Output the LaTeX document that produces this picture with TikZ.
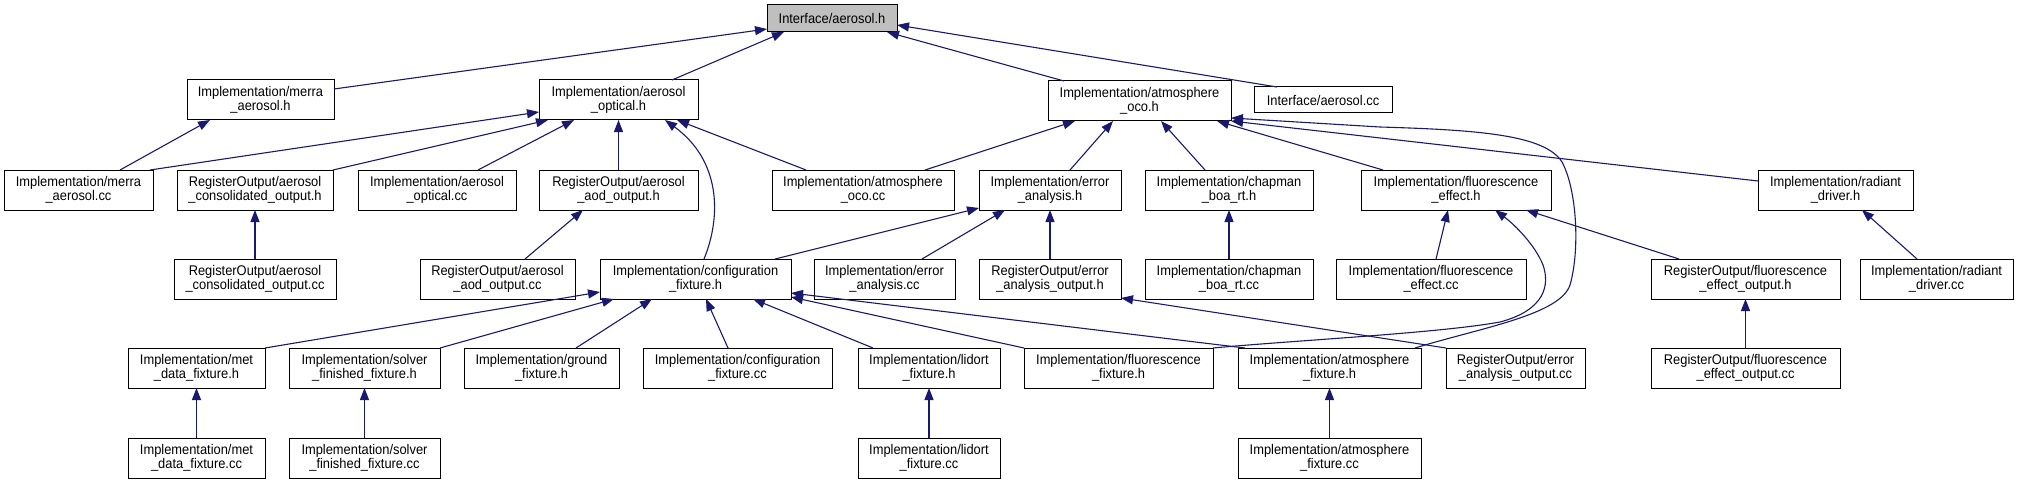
\documentclass[tikz,border=0pt]{standalone}
\usepackage{fontspec}
\setmainfont{Liberation Sans}[FakeStretch=0.92]
\usetikzlibrary{arrows.meta,calc}
\definecolor{edgeblue}{RGB}{25,25,112}
\definecolor{rootgray}{RGB}{191,191,191}
\begin{document}
\begin{tikzpicture}[x=1pt,y=-1pt,
  box/.style={draw=black,line width=1pt,fill=white,anchor=north west,inner sep=0pt,outer sep=0pt,
    align=center,minimum height=40pt,font=\fontsize{14}{14.5}\selectfont},
  onebox/.style={box,minimum height=26pt},
  edge/.style={draw=edgeblue,line width=1.1pt,-{Triangle[length=12pt,width=9pt]}}]
\useasboundingbox (0,0) rectangle (2025,484);
\fill[white] (0,0) rectangle (2025,484);
% row 0
\node[onebox,fill=rootgray,minimum width=130pt,minimum height=27pt] (A) at (767,5) {Interface/aerosol.h};
% row 1
\node[box,minimum width=147pt] (MH) at (187,80) {Implementation/merra\\\_aerosol.h};
\node[box,minimum width=159pt] (AO) at (539,80) {Implementation/aerosol\\\_optical.h};
\node[box,minimum width=183pt] (AT) at (1048,81) {Implementation/atmosphere\\\_oco.h};
\node[onebox,minimum width=138pt] (ACC) at (1254,87) {Interface/aerosol.cc};
% row 2
\node[box,minimum width=149pt] (MCC) at (4,170) {Implementation/merra\\\_aerosol.cc};
\node[box,minimum width=156pt] (COH) at (177,170) {RegisterOutput/aerosol\\\_consolidated\_output.h};
\node[box,minimum width=158pt] (AOC) at (358,170) {Implementation/aerosol\\\_optical.cc};
\node[box,minimum width=159pt] (AODH) at (539,170) {RegisterOutput/aerosol\\\_aod\_output.h};
\node[box,minimum width=182pt] (ATOC) at (772,170) {Implementation/atmosphere\\\_oco.cc};
\node[box,minimum width=142pt] (EAH) at (979,170) {Implementation/error\\\_analysis.h};
\node[box,minimum width=168pt] (CBH) at (1145,170) {Implementation/chapman\\\_boa\_rt.h};
\node[box,minimum width=190pt] (FEH) at (1361,170) {Implementation/fluorescence\\\_effect.h};
\node[box,minimum width=155pt] (RDH) at (1758,170) {Implementation/radiant\\\_driver.h};
% row 3
\node[box,minimum width=162pt] (COC) at (174,259) {RegisterOutput/aerosol\\\_consolidated\_output.cc};
\node[box,minimum width=155pt] (AODC) at (420,259) {RegisterOutput/aerosol\\\_aod\_output.cc};
\node[box,minimum width=191pt] (CFH) at (600,259) {Implementation/configuration\\\_fixture.h};
\node[box,minimum width=141pt] (EAC) at (814,259) {Implementation/error\\\_analysis.cc};
\node[box,minimum width=142pt] (EAOH) at (979,259) {RegisterOutput/error\\\_analysis\_output.h};
\node[box,minimum width=168pt] (CBC) at (1145,259) {Implementation/chapman\\\_boa\_rt.cc};
\node[box,minimum width=190pt] (FEC) at (1336,259) {Implementation/fluorescence\\\_effect.cc};
\node[box,minimum width=189pt] (FEOH) at (1651,259) {RegisterOutput/fluorescence\\\_effect\_output.h};
\node[box,minimum width=153pt] (RDC) at (1860,259) {Implementation/radiant\\\_driver.cc};
% row 4
\node[box,minimum width=137pt] (MDH) at (128,348) {Implementation/met\\\_data\_fixture.h};
\node[box,minimum width=151pt] (SFH) at (289,348) {Implementation/solver\\\_finished\_fixture.h};
\node[box,minimum width=155pt] (GFH) at (464,348) {Implementation/ground\\\_fixture.h};
\node[box,minimum width=189pt] (CFC) at (643,348) {Implementation/configuration\\\_fixture.cc};
\node[box,minimum width=142pt] (LFH) at (858,348) {Implementation/lidort\\\_fixture.h};
\node[box,minimum width=189pt] (FFH) at (1024,348) {Implementation/fluorescence\\\_fixture.h};
\node[box,minimum width=183pt] (AFH) at (1238,348) {Implementation/atmosphere\\\_fixture.h};
\node[box,minimum width=139pt] (EAOC) at (1446,348) {RegisterOutput/error\\\_analysis\_output.cc};
\node[box,minimum width=189pt] (FEOC) at (1651,348) {RegisterOutput/fluorescence\\\_effect\_output.cc};
% row 5
\node[box,minimum width=137pt] (MDC) at (128,438) {Implementation/met\\\_data\_fixture.cc};
\node[box,minimum width=151pt] (SFC) at (289,438) {Implementation/solver\\\_finished\_fixture.cc};
\node[box,minimum width=142pt] (LFC) at (858,438) {Implementation/lidort\\\_fixture.cc};
\node[box,minimum width=183pt] (AFC) at (1238,438) {Implementation/atmosphere\\\_fixture.cc};
% edges to Interface/aerosol.h
\draw[edge] ($(MH.north west)+(147,9)$) -- ($(A.north west)+(0,24)$);
\draw[edge] ($(AO.north west)+(133,0)$) -- ($(A.north west)+(17,27)$);
\draw[edge] ($(AT.north west)+(16,0)$) -- ($(A.north west)+(120,27)$);
\draw[edge] ($(ACC.north west)+(23,0)$) -- ($(A.north west)+(130,20)$);
% edges to merra_aerosol.h
\draw[edge] ($(MCC.north west)+(116,0)$) -- ($(MH.north west)+(23,40)$);
% edges to aerosol_optical.h
\draw[edge] ($(MCC.north west)+(146,0)$) -- ($(AO.north west)+(0,32)$);
\draw[edge] ($(COH.north west)+(156,0)$) -- ($(AO.north west)+(9,40)$);
\draw[edge] ($(AOC.north west)+(120,0)$) -- ($(AO.north west)+(35,40)$);
\draw[edge] ($(AODH.north west)+(79.5,0)$) -- ($(AO.north west)+(79.5,40)$);
\draw[edge] ($(CFH.north west)+(104,0)$) .. controls ($(CFH.north west)+(122,-44)$) and ($(AO.north west)+(181,80)$) .. ($(AO.north west)+(126,40)$);
\draw[edge] ($(ATOC.north west)+(34,0)$) -- ($(AO.north west)+(138,40)$);
% edges to atmosphere_oco.h
\draw[edge] ($(ATOC.north west)+(153,0)$) -- ($(AT.north west)+(27,40)$);
\draw[edge] ($(EAH.north west)+(91,0)$) -- ($(AT.north west)+(65,40)$);
\draw[edge] ($(CBH.north west)+(60,0)$) -- ($(AT.north west)+(113,40)$);
\draw[edge] ($(FEH.north west)+(22,0)$) -- ($(AT.north west)+(169,40)$);
\draw[edge] ($(RDH.north west)+(0,11)$) -- ($(AT.north west)+(183,40)$);
\draw[edge] ($(AFH.north west)+(177,0)$) .. controls (1480,328) and (1560,315) .. (1570,285)
  .. controls (1580,250) and (1577,190) .. (1562,162)
  .. controls (1545,135) and (1480,130) .. (1380,127)
  -- ($(AT.north west)+(183,37)$);
% edges to fluorescence_effect.h
\draw[edge] ($(FFH.north west)+(189,0)$) .. controls (1300,340) and (1440,333) .. (1500,322)
  .. controls (1545,310) and (1550,285) .. (1543,265)
  .. controls (1535,245) and (1515,225) .. ($(FEH.north west)+(134,40)$);
\draw[edge] ($(FEC.north west)+(100,0)$) -- ($(FEH.north west)+(87,40)$);
\draw[edge] ($(FEOH.north west)+(28,0)$) -- ($(FEH.north west)+(165,40)$);
% others
\draw[edge] ($(RDC.north west)+(57,0)$) -- ($(RDH.north west)+(104,40)$);
\draw[edge] ($(FEOC.north west)+(94.5,0)$) -- ($(FEOH.north west)+(94.5,40)$);
\draw[edge] ($(COC.north west)+(81,0)$) -- ($(COH.north west)+(78,40)$);
\draw[edge] ($(AODC.north west)+(105,0)$) -- ($(AODH.north west)+(44,40)$);
\draw[edge] ($(CFH.north west)+(175,0)$) -- ($(EAH.north west)+(0,38)$);
\draw[edge] ($(EAC.north west)+(108,0)$) -- ($(EAH.north west)+(26,40)$);
\draw[edge] ($(EAOH.north west)+(71,0)$) -- ($(EAH.north west)+(71,40)$);
\draw[edge] ($(CBC.north west)+(84,0)$) -- ($(CBH.north west)+(84,40)$);
\draw[edge] ($(EAOC.north west)+(0,0)$) -- ($(EAOH.north west)+(142,39)$);
% edges to configuration_fixture.h
\draw[edge] ($(MDH.north west)+(137,0)$) -- ($(CFH.north west)+(0,33)$);
\draw[edge] ($(SFH.north west)+(151,0)$) -- ($(CFH.north west)+(14,40)$);
\draw[edge] ($(GFH.north west)+(112,0)$) -- ($(CFH.north west)+(52,40)$);
\draw[edge] ($(CFC.north west)+(85,0)$) -- ($(CFH.north west)+(106,40)$);
\draw[edge] ($(LFH.north west)+(15,0)$) -- ($(CFH.north west)+(153,40)$);
\draw[edge] ($(FFH.north west)+(0,0)$) -- ($(CFH.north west)+(191,38)$);
\draw[edge] ($(AFH.north west)+(7,0)$) -- ($(CFH.north west)+(191,34)$);
% bottom row
\draw[edge] ($(MDC.north west)+(68.5,0)$) -- ($(MDH.north west)+(68.5,40)$);
\draw[edge] ($(SFC.north west)+(75.5,0)$) -- ($(SFH.north west)+(75.5,40)$);
\draw[edge] ($(LFC.north west)+(71,0)$) -- ($(LFH.north west)+(71,40)$);
\draw[edge] ($(AFC.north west)+(91.5,0)$) -- ($(AFH.north west)+(91.5,40)$);
\end{tikzpicture}
\end{document}
